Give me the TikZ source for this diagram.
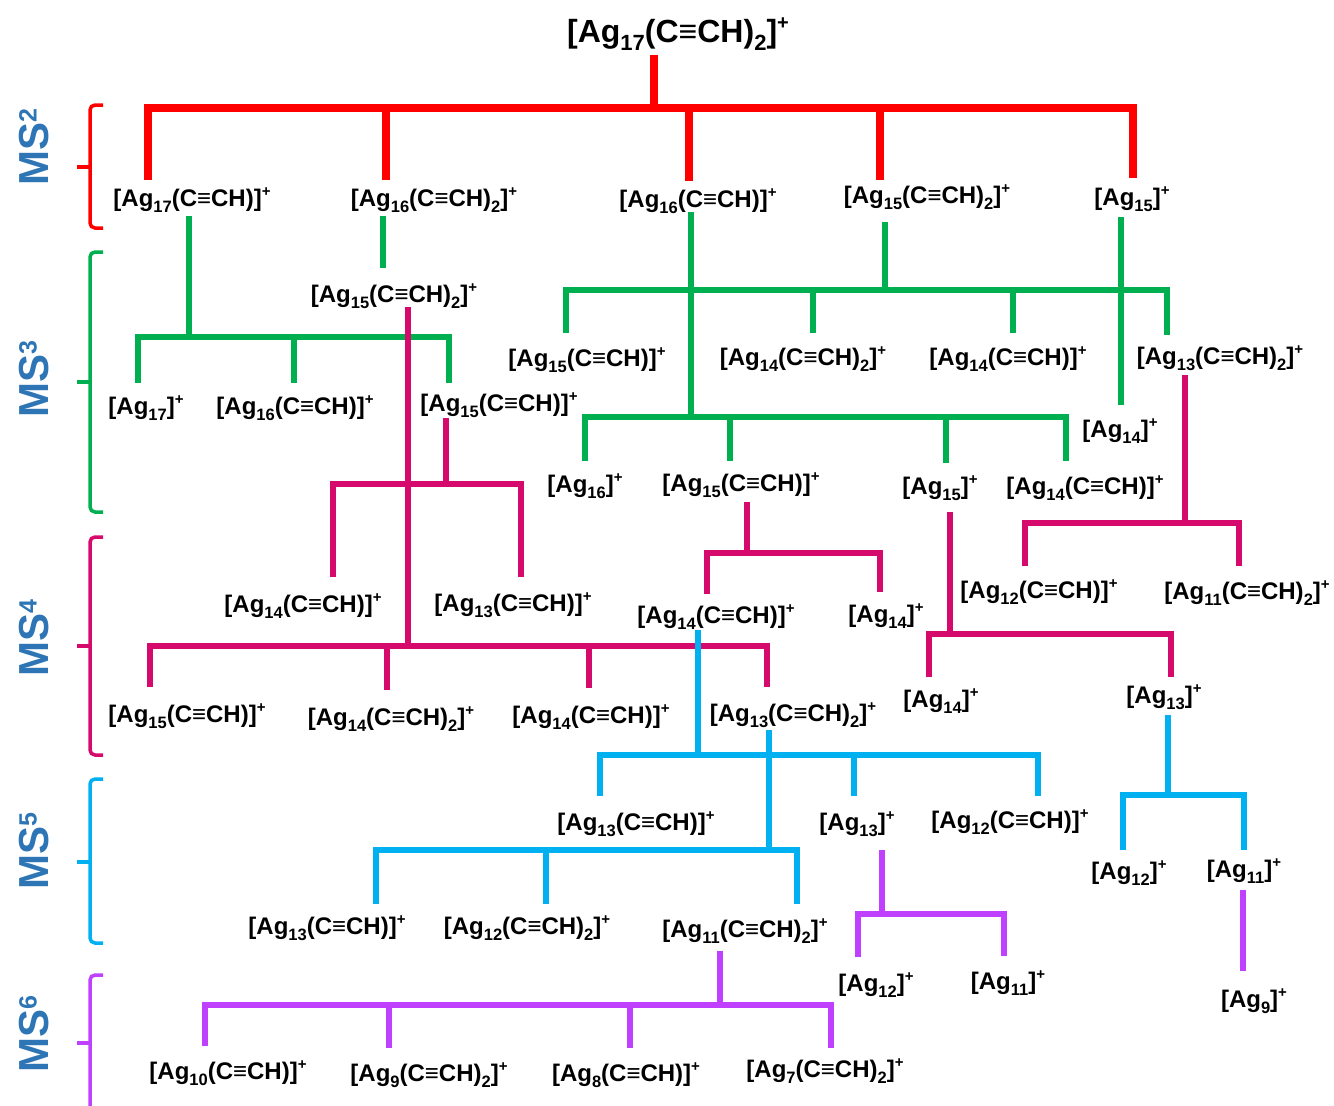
\documentclass[tikz,border=0pt]{standalone}
\usepackage{fontspec}
\setmainfont{Liberation Sans}
\definecolor{cred}{RGB}{255,0,0}
\definecolor{cgreen}{RGB}{0,176,80}
\definecolor{cmag}{RGB}{214,10,108}
\definecolor{ccyan}{RGB}{0,176,240}
\definecolor{cpurp}{RGB}{192,64,255}
\definecolor{msblue}{RGB}{46,117,182}
\def\subsz{16.5}\def\supsz{15}
\newcommand\lsub[1]{\raisebox{-0.27em}{\fontsize{\subsz}{\subsz}\selectfont#1}}
\newcommand\lsup[1]{\raisebox{0.40em}{\fontsize{\supsz}{\supsz}\selectfont#1}}
\newcommand\one{(C≡CH)}
\newcommand\two{(C≡CH)\lsub{2}}
\newcommand\AG[2]{[Ag\lsub{#1}#2]\lsup{+}}
\newcommand\lblfont{\bfseries\fontsize{24}{26}\selectfont}
\newcommand\msfont{\bfseries\fontsize{42}{42}\selectfont}
\newcommand\MS[1]{MS\raisebox{0.27em}{\fontsize{25}{25}\selectfont#1}}
\begin{document}
\begin{tikzpicture}[x=1pt,y=-1pt,
  lab/.style={font=\lblfont, inner sep=0pt, anchor=base},
  ttl/.style={font={\def\subsz{22}\def\supsz{20}\bfseries\fontsize{32}{34}\selectfont}, inner sep=0pt, anchor=base},
  redln/.style={draw=cred, line width=7.5pt},
  grn/.style={draw=cgreen, line width=5.5pt},
  mag/.style={draw=cmag, line width=5.5pt},
  cya/.style={draw=ccyan, line width=5.5pt},
  pur/.style={draw=cpurp, line width=5.5pt},
  brace/.style={line width=3.5pt, rounded corners=5pt},
  mslab/.style={font=\msfont, text=msblue, rotate=90, anchor=base, inner sep=0pt}]
\useasboundingbox (0,0) rectangle (1334,1106);

% ---- level labels and braces
\node[mslab] (ms2) at (48,147.5) {\MS{2}};
\node[mslab] (ms3) at (48,379) {\MS{3}};
\node[mslab] (ms4) at (48,638) {\MS{4}};
\node[mslab] (ms5) at (48,851) {\MS{5}};
\node[mslab] (ms6) at (48,1034) {\MS{6}};
\draw[brace, cred] (103,105) -- (90,105) -- (90,228) -- (103,228);
\draw[brace, cred] (77,167) -- (90,167);
\draw[brace, cgreen] (103,252) -- (90,252) -- (90,512) -- (103,512);
\draw[brace, cgreen] (77,382) -- (90,382);
\draw[brace, cmag] (103,537) -- (90,537) -- (90,755) -- (103,755);
\draw[brace, cmag] (77,646) -- (90,646);
\draw[brace, ccyan] (103,779) -- (90,779) -- (90,943) -- (103,943);
\draw[brace, ccyan] (77,862) -- (90,862);
\draw[brace, cpurp] (103,975) -- (90,975) -- (90,1112);
\draw[brace, cpurp] (77,1043) -- (90,1043);

% ---- nodes
\node[ttl] (t0) at (678,42) {\AG{17}{\two}};
% MS2
\node[lab] (a1) at (192,206.5) {\AG{17}{\one}};
\node[lab] (a2) at (434,206.5) {\AG{16}{\two}};
\node[lab] (a3) at (698,207.5) {\AG{16}{\one}};
\node[lab] (a4) at (927,203.5) {\AG{15}{\two}};
\node[lab] (a5) at (1132,205.5) {\AG{15}{}};
% MS3
\node[lab] (b1) at (146,414) {\AG{17}{}};
\node[lab] (b2) at (295,414) {\AG{16}{\one}};
\node[lab] (b3) at (499,411) {\AG{15}{\one}};
\node[lab] (b4) at (394,302) {\AG{15}{\two}};
\node[lab] (b5) at (587,366) {\AG{15}{\one}};
\node[lab] (b6) at (803,365) {\AG{14}{\two}};
\node[lab] (b7) at (1008,365) {\AG{14}{\one}};
\node[lab] (b8) at (1220,364) {\AG{13}{\two}};
\node[lab] (b9) at (1120,437) {\AG{14}{}};
\node[lab] (b10) at (585,492) {\AG{16}{}};
\node[lab] (b11) at (741,491) {\AG{15}{\one}};
\node[lab] (b12) at (940,494) {\AG{15}{}};
\node[lab] (b13) at (1085,494) {\AG{14}{\one}};
% MS4
\node[lab] (c1) at (303,612) {\AG{14}{\one}};
\node[lab] (c2) at (513,611) {\AG{13}{\one}};
\node[lab] (c3) at (187,722) {\AG{15}{\one}};
\node[lab] (c4) at (391,725) {\AG{14}{\two}};
\node[lab] (c5) at (591,723) {\AG{14}{\one}};
\node[lab] (c6) at (793,721) {\AG{13}{\two}};
\node[lab] (c7) at (716,623) {\AG{14}{\one}};
\node[lab] (c8) at (886,622) {\AG{14}{}};
\node[lab] (c9) at (1039,598) {\AG{12}{\one}};
\node[lab] (c10) at (1247,599) {\AG{11}{\two}};
\node[lab] (c11) at (941,707) {\AG{14}{}};
\node[lab] (c12) at (1164,703) {\AG{13}{}};
% MS5
\node[lab] (d1) at (636,830) {\AG{13}{\one}};
\node[lab] (d2) at (857,830) {\AG{13}{}};
\node[lab] (d3) at (1010,828) {\AG{12}{\one}};
\node[lab] (d4) at (327,934) {\AG{13}{\one}};
\node[lab] (d5) at (527,934) {\AG{12}{\two}};
\node[lab] (d6) at (745,937) {\AG{11}{\two}};
\node[lab] (d7) at (1129,879) {\AG{12}{}};
\node[lab] (d8) at (1244,877) {\AG{11}{}};
% MS6
\node[lab] (e1) at (876,991) {\AG{12}{}};
\node[lab] (e2) at (1008,989) {\AG{11}{}};
\node[lab] (e3) at (1254,1007) {\AG{9}{}};
\node[lab] (e4) at (228,1079) {\AG{10}{\one}};
\node[lab] (e5) at (429,1081) {\AG{9}{\two}};
\node[lab] (e6) at (626,1081) {\AG{8}{\one}};
\node[lab] (e7) at (825,1077) {\AG{7}{\two}};

% ---- red (MS2)
\draw[redln] (654,55) -- (654,108);
\draw[redln] (148,180) -- (148,108) -- (1133,108) -- (1133,178);
\draw[redln] (386,108) -- (386,180);
\draw[redln] (689,108) -- (689,181);
\draw[redln] (880,108) -- (880,180);

% ---- green (MS3)
\draw[grn] (189,216) -- (189,337);
\draw[grn] (138,383) -- (138,337) -- (449,337) -- (449,383);
\draw[grn] (294,337) -- (294,383);
\draw[grn] (383,216) -- (383,268);
\draw[grn] (691,212) -- (691,417);
\draw[grn] (585,461) -- (585,417) -- (1066,417) -- (1066,461);
\draw[grn] (730,417) -- (730,461);
\draw[grn] (946,417) -- (946,463);
\draw[grn] (885,222) -- (885,290);
\draw[grn] (566,333) -- (566,290) -- (1167,290) -- (1167,335);
\draw[grn] (813,290) -- (813,333);
\draw[grn] (1013,290) -- (1013,333);
\draw[grn] (1121,217) -- (1121,405);

% ---- magenta (MS4)
\draw[mag] (408,307) -- (408,646);
\draw[mag] (150,687) -- (150,646) -- (767,646) -- (767,687);
\draw[mag] (387,646) -- (387,690);
\draw[mag] (589,646) -- (589,688);
\draw[mag] (446,418) -- (446,484);
\draw[mag] (333,577) -- (333,484) -- (521,484) -- (521,577);
\draw[mag] (747,502) -- (747,553);
\draw[mag] (707,594) -- (707,553) -- (880,553) -- (880,592);
\draw[mag] (950,512) -- (950,634);
\draw[mag] (929,677) -- (929,634) -- (1171,634) -- (1171,677);
\draw[mag] (1185,375) -- (1185,523);
\draw[mag] (1025,566) -- (1025,523) -- (1239,523) -- (1239,566);

% ---- cyan (MS5)
\draw[cya] (698,630) -- (698,755);
\draw[cya] (600,796) -- (600,755) -- (1038,755) -- (1038,796);
\draw[cya] (854,755) -- (854,796);
\draw[cya] (769,730) -- (769,850);
\draw[cya] (376,904) -- (376,850) -- (797,850) -- (797,904);
\draw[cya] (546,850) -- (546,904);
\draw[cya] (1168,715) -- (1168,795);
\draw[cya] (1123,850) -- (1123,795) -- (1244,795) -- (1244,850);

% ---- purple (MS6)
\draw[pur] (882,850) -- (882,914);
\draw[pur] (858,957) -- (858,914) -- (1004,914) -- (1004,956);
\draw[pur] (1243,890) -- (1243,971);
\draw[pur] (720,951) -- (720,1005);
\draw[pur] (205,1046) -- (205,1005) -- (831,1005) -- (831,1048);
\draw[pur] (389,1005) -- (389,1048);
\draw[pur] (630,1005) -- (630,1048);
\end{tikzpicture}
\end{document}
